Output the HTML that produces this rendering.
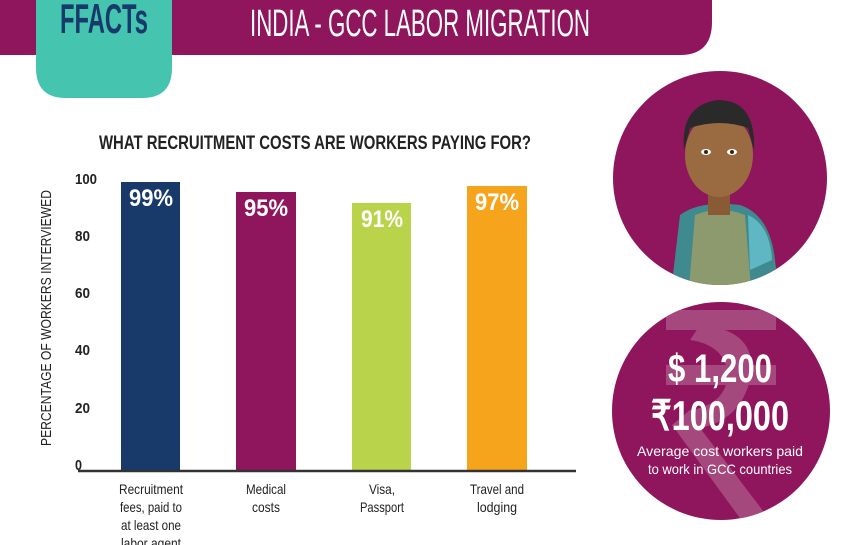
<!DOCTYPE html>
<html><head><meta charset="utf-8"><style>
body{margin:0;width:866px;height:545px;overflow:hidden;background:#fff}
svg{display:block}
text{font-family:"Liberation Sans Narrow","Liberation Sans",sans-serif}
</style></head><body>
<svg width="866" height="545" viewBox="0 0 866 545">
<path d="M0 0 H712 V22 Q712 55 680 55 H0 Z" fill="#8f155d"/>
<path d="M36 0 H172 V68 Q172 98 142 98 H66 Q36 98 36 68 Z" fill="#45c4b0"/>
<text x="104" y="33" text-anchor="middle" font-size="42" font-weight="bold" fill="#173a6b" textLength="88" lengthAdjust="spacingAndGlyphs">FFACTs</text>
<text x="420" y="36" text-anchor="middle" font-size="38" fill="#fff" textLength="340" lengthAdjust="spacingAndGlyphs">INDIA - GCC LABOR MIGRATION</text>
<text x="315" y="149" text-anchor="middle" font-size="19" font-weight="bold" fill="#222" textLength="432" lengthAdjust="spacingAndGlyphs">WHAT RECRUITMENT COSTS ARE WORKERS PAYING FOR?</text>
<text transform="translate(51,318) rotate(-90)" text-anchor="middle" font-size="15" fill="#222" textLength="256" lengthAdjust="spacingAndGlyphs">PERCENTAGE OF WORKERS INTERVIEWED</text>
<g font-size="15" font-weight="bold" fill="#222">
<text x="75" y="184" textLength="22" lengthAdjust="spacingAndGlyphs">100</text>
<text x="75" y="241" textLength="15" lengthAdjust="spacingAndGlyphs">80</text>
<text x="75" y="298" textLength="15" lengthAdjust="spacingAndGlyphs">60</text>
<text x="75" y="355" textLength="15" lengthAdjust="spacingAndGlyphs">40</text>
<text x="75" y="413" textLength="15" lengthAdjust="spacingAndGlyphs">20</text>
<text x="75" y="470" textLength="7" lengthAdjust="spacingAndGlyphs">0</text>
</g>
<rect x="121" y="182" width="59" height="289" fill="#173a6b"/>
<rect x="236" y="192" width="60" height="279" fill="#8f155d"/>
<rect x="352" y="203" width="59" height="268" fill="#b9d44a"/>
<rect x="467" y="186" width="60" height="285" fill="#f7a41d"/>
<line x1="78" y1="471" x2="576" y2="471" stroke="#333" stroke-width="2.5"/>
<g font-size="24" font-weight="bold" fill="#fff" text-anchor="middle">
<text x="151" y="206" textLength="44" lengthAdjust="spacingAndGlyphs">99%</text>
<text x="266" y="216" textLength="44" lengthAdjust="spacingAndGlyphs">95%</text>
<text x="382" y="227" textLength="42" lengthAdjust="spacingAndGlyphs">91%</text>
<text x="497" y="210" textLength="44" lengthAdjust="spacingAndGlyphs">97%</text>
</g>
<g font-size="14" fill="#222" text-anchor="middle">
<text x="151" y="494" textLength="64" lengthAdjust="spacingAndGlyphs">Recruitment</text>
<text x="151" y="512" textLength="62" lengthAdjust="spacingAndGlyphs">fees, paid to</text>
<text x="151" y="530" textLength="60" lengthAdjust="spacingAndGlyphs">at least one</text>
<text x="151" y="548" textLength="60" lengthAdjust="spacingAndGlyphs">labor agent</text>
<text x="266" y="494" textLength="40" lengthAdjust="spacingAndGlyphs">Medical</text>
<text x="266" y="512" textLength="28" lengthAdjust="spacingAndGlyphs">costs</text>
<text x="382" y="494" textLength="26" lengthAdjust="spacingAndGlyphs">Visa,</text>
<text x="382" y="512" textLength="44" lengthAdjust="spacingAndGlyphs">Passport</text>
<text x="497" y="494" textLength="54" lengthAdjust="spacingAndGlyphs">Travel and</text>
<text x="497" y="512" textLength="40" lengthAdjust="spacingAndGlyphs">lodging</text>
</g>
<defs><clipPath id="c1"><circle cx="720" cy="178" r="107"/></clipPath></defs>
<circle cx="720" cy="178" r="107" fill="#8f155d"/>
<g clip-path="url(#c1)">
<path d="M680 215 Q700 200 740 205 Q770 215 775 260 L780 300 H670 Z" fill="#3f8a8f"/>
<path d="M695 215 Q720 205 745 215 L752 300 H688 Z" fill="#8d9a6e"/>
<path d="M748 215 Q770 225 772 260 L750 270 Z" fill="#5fb7c4"/>
<rect x="708" y="185" width="22" height="30" fill="#8a5a35"/>
<ellipse cx="719" cy="155" rx="34" ry="42" fill="#9a6a40"/>
<path d="M684 150 Q680 105 718 100 Q756 100 754 150 L748 128 Q720 118 690 128 Z" fill="#2a2a2a"/>
<ellipse cx="706" cy="152" rx="5" ry="3" fill="#fff"/><ellipse cx="732" cy="152" rx="5" ry="3" fill="#fff"/>
<circle cx="706" cy="152" r="2" fill="#3a2410"/><circle cx="732" cy="152" r="2" fill="#3a2410"/>
</g>
<circle cx="721" cy="411" r="109" fill="#8f155d"/>
<defs><clipPath id="c2"><circle cx="721" cy="411" r="109"/></clipPath></defs>
<g clip-path="url(#c2)" fill="#a4487e">
<rect x="666" y="310" width="110" height="20"/>
<rect x="666" y="365" width="110" height="20"/>
<path d="M700 325 Q760 330 750 380 Q740 420 700 428 L770 520 L745 525 L672 425 L690 410 Q725 405 728 375 Q725 345 690 340 Z"/>
</g>
<text x="720" y="382" text-anchor="middle" font-size="40" font-weight="bold" fill="#fff" textLength="104" lengthAdjust="spacingAndGlyphs">$ 1,200</text>
<text x="720" y="430" text-anchor="middle" font-size="42" font-weight="bold" fill="#fff" textLength="138" lengthAdjust="spacingAndGlyphs">₹100,000</text>
<text x="720" y="456" text-anchor="middle" font-size="14" fill="#fff" font-family="Liberation Sans" textLength="166" lengthAdjust="spacingAndGlyphs">Average cost workers paid</text>
<text x="720" y="474" text-anchor="middle" font-size="14" fill="#fff" font-family="Liberation Sans" textLength="144" lengthAdjust="spacingAndGlyphs">to work in GCC countries</text>
</svg>
</body></html>
